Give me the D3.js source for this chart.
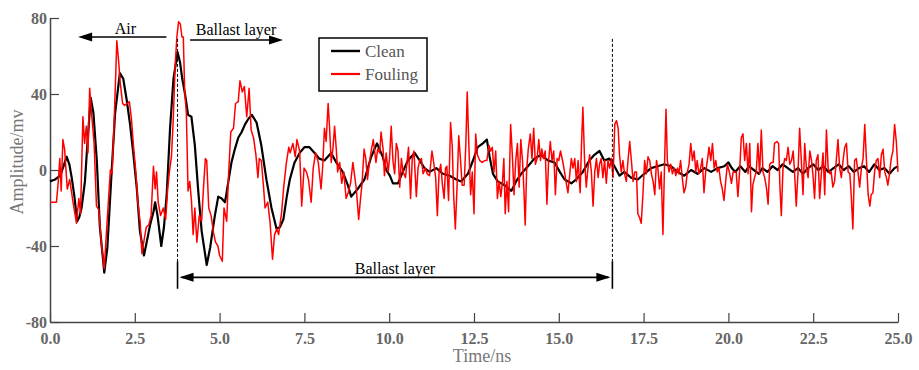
<!DOCTYPE html>
<html><head><meta charset="utf-8">
<script src="https://cdn.jsdelivr.net/npm/d3@7/dist/d3.min.js"></script>
<style>body{margin:0;background:#fff}svg{display:block}</style>
</head><body>
<svg id="c" width="919" height="370"></svg>
<script>
const xTicks = [0, 2.5, 5, 7.5, 10, 12.5, 15, 17.5, 20, 22.5, 25];
const xTickLabels = ["0.0","2.5","5.0","7.5","10.0","12.5","15.0","17.5","20.0","22.5","25.0"];
const yTicks = [-80, -40, 0, 40, 80];
const yTickLabels = ["-80","-40","0","40","80"];
const seriesNames = ["Clean", "Fouling"];

const clean = [[0,-6],[0.15,-5],[0.3,-3],[0.4,2],[0.49,7],[0.57,3],[0.64,-4],[0.72,-14],[0.8,-27],[0.86,-25],[0.93,-20],[1.03,-6],[1.1,13],[1.2,38],[1.28,30],[1.38,5],[1.47,-30],[1.6,-54],[1.69,-41],[1.82,0],[1.92,30],[2.06,51],[2.16,48],[2.26,37],[2.36,24],[2.46,8],[2.56,-10],[2.65,-32],[2.77,-45],[2.85,-38],[2.95,-29],[3.05,-22],[3.1,-17],[3.17,-24],[3.28,-40],[3.36,-30],[3.44,-13],[3.54,22],[3.64,48],[3.76,62],[3.83,57],[3.9,48],[3.99,39],[4.07,29],[4.17,28],[4.27,13],[4.37,-11],[4.47,-32],[4.62,-50],[4.72,-41],[4.86,-24],[4.96,-14],[5.06,-15],[5.16,-17],[5.26,-6],[5.35,4],[5.45,11],[5.55,17],[5.65,20],[5.75,24],[5.85,27],[5.95,29],[6.09,25],[6.23,13],[6.38,-5],[6.53,-20],[6.68,-31],[6.78,-30],[6.88,-26],[6.98,-14],[7.07,-5],[7.21,4],[7.36,9],[7.5,12],[7.65,12],[7.8,9],[7.94,6],[8.09,5],[8.29,9],[8.44,4],[8.63,-1],[8.78,-8],[8.88,-14],[9.07,-10],[9.27,-5],[9.47,7],[9.64,14],[9.81,7],[9.91,0],[10.02,-3],[10.11,-7],[10.26,-7],[10.4,-1],[10.55,5],[10.75,9],[10.9,5],[11.04,1],[11.19,-1],[11.39,1],[11.58,-2],[11.78,-3],[11.98,-5],[12.12,-6],[12.32,-2],[12.47,5],[12.61,12],[12.76,14],[12.88,16],[12.96,7],[13.06,-2],[13.2,-6],[13.4,-8],[13.6,-11],[13.74,-6],[13.89,-2],[14.09,2],[14.28,6],[14.48,8],[14.68,5],[14.87,4],[15.03,-1],[15.17,-5],[15.37,-7],[15.51,-5],[15.71,-1],[15.9,5],[16.05,8],[16.2,10],[16.34,5],[16.49,6],[16.64,2],[16.79,-3],[16.93,-1],[17.13,-4],[17.33,-5],[17.52,-2],[17.72,1],[17.91,2],[18.11,3],[18.31,2],[18.5,-1],[18.7,-3],[18.9,0],[19.09,-2],[19.29,1],[19.49,-1],[19.68,1],[19.88,2],[20,4],[20.1,1],[20.2,-1],[20.35,2],[20.5,-1],[20.6,2],[20.75,0],[20.9,-2],[21,1],[21.15,-1],[21.3,2],[21.45,0],[21.6,3],[21.75,1],[21.9,-1],[22.05,1],[22.2,-2],[22.35,1],[22.5,3],[22.65,0],[22.8,2],[22.95,-1],[23.1,1],[23.25,3],[23.4,0],[23.55,2],[23.7,-1],[23.85,1],[24,2],[24.15,-1],[24.3,3],[24.45,0],[24.6,1],[24.75,-2],[24.9,1],[25,2]];

const fouling = [[0,-17],[0.1,-17],[0.19,-17],[0.24,-7],[0.29,6],[0.33,-11],[0.38,16],[0.43,11],[0.51,-10],[0.58,-5],[0.68,-17],[0.78,-28],[0.85,-15],[0.9,-23],[0.97,28],[1.02,14],[1.07,23],[1.12,9],[1.17,43],[1.22,31],[1.3,14],[1.37,-19],[1.44,-21],[1.51,-38],[1.6,-52],[1.65,-37],[1.72,-17],[1.78,0],[1.83,-2],[1.88,20],[1.93,46],[1.97,68],[2.02,58],[2.07,46],[2.14,35],[2.2,34],[2.27,35],[2.34,36],[2.4,27],[2.46,13],[2.53,-1],[2.59,-17],[2.66,-28],[2.71,-44],[2.79,-35],[2.84,-30],[2.91,-29],[2.98,-24],[3.05,2],[3.1,-10],[3.14,-1],[3.19,-17],[3.26,-24],[3.34,-20],[3.41,-26],[3.47,-10],[3.52,-1],[3.58,7],[3.63,25],[3.69,55],[3.74,70],[3.79,78],[3.84,77],[3.89,70],[3.93,70],[3.97,42],[4.02,30],[4.07,-11],[4.12,-6],[4.17,-16],[4.22,-34],[4.27,-20],[4.33,-38],[4.4,-24],[4.47,-27],[4.52,-11],[4.58,6],[4.62,5],[4.68,-20],[4.75,-24],[4.82,-33],[4.88,-38],[4.95,-40],[5,-45],[5.08,-48],[5.13,-20],[5.21,-27],[5.26,-4],[5.33,20],[5.41,22],[5.47,35],[5.55,36],[5.6,47],[5.67,41],[5.73,44],[5.8,28],[5.87,43],[5.93,21],[6,17],[6.07,8],[6.13,-4],[6.17,6],[6.23,5],[6.3,-10],[6.34,-20],[6.42,-17],[6.49,-28],[6.56,-47],[6.62,-34],[6.69,-31],[6.74,-34],[6.83,-22],[6.89,-9],[6.97,4],[7.04,12],[7.08,9],[7.16,14],[7.23,7],[7.28,16],[7.36,10],[7.42,-19],[7.49,1],[7.56,-1],[7.62,-5],[7.7,-17],[7.76,1],[7.83,9],[7.91,4],[7.99,-10],[8.04,2],[8.09,22],[8.14,15],[8.2,35],[8.24,23],[8.29,4],[8.34,11],[8.39,23],[8.44,11],[8.48,-1],[8.54,4],[8.6,-7],[8.66,-1],[8.73,-15],[8.79,-12],[8.86,-7],[8.93,4],[8.98,-3],[9.03,-10],[9.1,-26],[9.16,-14],[9.2,-7],[9.26,11],[9.31,6],[9.36,-5],[9.41,3],[9.46,9],[9.53,16],[9.61,4],[9.66,11],[9.72,9],[9.76,20],[9.82,11],[9.86,-3],[9.91,9],[9.97,-1],[10.01,6],[10.06,23],[10.11,5],[10.16,-2],[10.21,14],[10.26,10],[10.31,-9],[10.36,6],[10.41,-1],[10.48,-4],[10.53,5],[10.57,12],[10.63,-15],[10.68,6],[10.73,10],[10.8,-14],[10.85,1],[10.9,5],[10.95,6],[11,-2],[11.07,1],[11.12,-2],[11.19,-3],[11.26,10],[11.32,3],[11.37,-4],[11.42,-24],[11.47,-1],[11.52,3],[11.57,-8],[11.62,-15],[11.66,1],[11.7,2],[11.75,-16],[11.81,25],[11.86,12],[11.9,-13],[11.95,-31],[12,-9],[12.05,18],[12.1,6],[12.15,-8],[12.21,-8],[12.26,14],[12.3,41],[12.35,12],[12.4,-13],[12.45,-1],[12.5,-23],[12.55,19],[12.6,8],[12.67,5],[12.74,4],[12.82,5],[12.88,5],[12.94,13],[12.99,10],[13.04,12],[13.09,-1],[13.14,10],[13.19,-15],[13.24,-6],[13.29,-14],[13.34,-6],[13.38,6],[13.42,-23],[13.47,-6],[13.52,-22],[13.58,24],[13.63,8],[13.68,-13],[13.73,5],[13.78,14],[13.83,-9],[13.88,16],[13.93,5],[13.97,-10],[14.01,-29],[14.05,-1],[14.1,11],[14.16,19],[14.21,6],[14.26,22],[14.31,3],[14.36,6],[14.41,16],[14.46,5],[14.5,11],[14.55,6],[14.6,10],[14.65,-18],[14.7,5],[14.75,15],[14.8,5],[14.85,10],[14.9,-13],[14.95,6],[15,5],[15.05,10],[15.11,5],[15.17,-1],[15.23,-8],[15.27,-12],[15.33,-1],[15.37,6],[15.42,1],[15.47,6],[15.52,-6],[15.57,5],[15.63,-12],[15.67,14],[15.71,33],[15.76,5],[15.81,-9],[15.86,1],[15.91,8],[15.96,-1],[16.01,-19],[16.06,-1],[16.11,6],[16.16,-4],[16.2,3],[16.25,6],[16.3,-4],[16.35,5],[16.4,-7],[16.45,5],[16.5,1],[16.55,6],[16.6,-4],[16.65,24],[16.7,26],[16.75,22],[16.79,8],[16.84,-1],[16.89,5],[16.94,-2],[16.99,-6],[17.04,5],[17.09,15],[17.14,5],[17.19,-6],[17.24,-1],[17.29,-1],[17.33,-23],[17.38,-25],[17.43,-28],[17.48,-13],[17.53,5],[17.58,-2],[17.63,7],[17.68,5],[17.73,-2],[17.78,-6],[17.83,-13],[17.88,5],[17.92,1],[17.97,-10],[18.02,-1],[18.07,-34],[18.12,5],[18.16,32],[18.2,5],[18.25,-1],[18.3,3],[18.35,-2],[18.4,1],[18.45,-3],[18.5,1],[18.54,-2],[18.59,5],[18.64,-4],[18.69,-12],[18.74,-9],[18.79,-1],[18.84,3],[18.89,14],[18.94,5],[18.99,10],[19.04,-1],[19.08,5],[19.13,-2],[19.18,1],[19.23,6],[19.28,-12],[19.33,-1],[19.38,5],[19.43,12],[19.48,5],[19.53,14],[19.58,1],[19.63,5],[19.67,-1],[19.72,1],[19.77,-6],[19.82,-10],[19.87,-16],[19.92,-6],[19.97,3],[20.04,-2],[20.09,-7],[20.14,-1],[20.18,-1],[20.23,-1],[20.28,-14],[20.33,-1],[20.38,17],[20.43,19],[20.48,5],[20.53,14],[20.58,-2],[20.63,14],[20.68,-22],[20.72,-8],[20.77,-4],[20.82,-1],[20.87,14],[20.92,-2],[20.97,21],[21.02,-1],[21.07,-4],[21.12,-9],[21.17,-18],[21.22,3],[21.27,4],[21.32,4],[21.36,14],[21.43,15],[21.48,14],[21.52,-9],[21.56,-24],[21.61,1],[21.66,6],[21.71,5],[21.76,12],[21.81,3],[21.86,5],[21.91,10],[21.95,-1],[22,-19],[22.05,-2],[22.1,22],[22.15,5],[22.2,-13],[22.25,14],[22.3,1],[22.35,-4],[22.4,10],[22.45,5],[22.49,-2],[22.54,-15],[22.59,5],[22.64,8],[22.69,-15],[22.74,-2],[22.79,9],[22.84,-13],[22.89,21],[22.94,1],[22.99,-2],[23.03,-1],[23.08,-9],[23.13,-6],[23.18,5],[23.23,16],[23.28,1],[23.33,-4],[23.38,5],[23.43,12],[23.48,14],[23.53,-1],[23.58,-2],[23.62,-13],[23.67,-31],[23.72,5],[23.77,6],[23.82,-1],[23.87,-9],[23.92,1],[23.97,6],[24.02,24],[24.07,5],[24.12,-13],[24.17,-19],[24.21,-13],[24.26,-12],[24.31,-1],[24.36,5],[24.41,6],[24.46,-4],[24.51,8],[24.56,11],[24.61,-1],[24.66,-4],[24.7,-8],[24.75,-2],[24.8,6],[24.85,10],[24.9,24],[24.95,15],[25,-1]];

// annotation anchors in data units
const boundaries = [3.76, 16.58];
const annoTexts = ["Air", "Ballast layer", "Ballast layer"];

const svg = d3.select("#c");
const m = {l:50, r:21, t:18, b:48};
const W = 919, H = 370;
const x = d3.scaleLinear().domain([0,25]).range([m.l, W - m.r]);
const y = d3.scaleLinear().domain([-80,80]).range([H - m.b, m.t]);
const serif = "'Liberation Serif','Times New Roman',serif";

// axes
const xa = svg.append("g").attr("transform", `translate(0,${H-m.b})`)
  .call(d3.axisBottom(x).tickValues(xTicks).tickFormat((d,i)=>xTickLabels[i]).tickSizeInner(-9).tickSizeOuter(0).tickPadding(11));
const ya = svg.append("g").attr("transform", `translate(${m.l},0)`)
  .call(d3.axisLeft(y).tickValues(yTicks).tickFormat((d,i)=>yTickLabels[i]).tickSizeInner(-9).tickSizeOuter(0).tickPadding(3));
[xa, ya].forEach(a => {
  a.select(".domain").attr("stroke", "#444").attr("stroke-width", 1.5);
  a.selectAll(".tick line").attr("stroke", "#444").attr("stroke-width", 1.2);
  a.selectAll(".tick text").attr("fill", "#666").attr("font-family", serif)
    .attr("font-weight", "bold").attr("font-size", 16);
});

svg.append("text").attr("x", 482).attr("y", 362).attr("text-anchor", "middle")
  .attr("font-family", serif).attr("font-size", 18).attr("fill", "#777").text("Time/ns");
svg.append("text").attr("transform", "translate(23,162) rotate(-90)").attr("text-anchor", "middle")
  .attr("font-family", serif).attr("font-size", 18).attr("fill", "#777").text("Amplitude/mv");

// lines
const line = d3.line().x(d => x(d[0])).y(d => y(d[1]));
svg.append("path").datum(clean).attr("d", line).attr("fill", "none")
  .attr("stroke", "#000").attr("stroke-width", 2.2).attr("stroke-linejoin", "round");
svg.append("path").datum(fouling).attr("d", line).attr("fill", "none")
  .attr("stroke", "#ff0000").attr("stroke-width", 1.5).attr("stroke-linejoin", "round");

// annotations
const g = svg.append("g");
function arrowHead(tipX, tipY, dir) {
  const L = 14, h = 4.5;
  g.append("path").attr("d", `M${tipX},${tipY} L${tipX - dir*L},${tipY - h} L${tipX - dir*L},${tipY + h} Z`).attr("fill", "#000");
}
boundaries.forEach(b => {
  g.append("line").attr("x1", x(b)).attr("x2", x(b)).attr("y1", y(69)).attr("y2", y(-48))
    .attr("stroke", "#000").attr("stroke-width", 1).attr("stroke-dasharray", "3,2");
  g.append("line").attr("x1", x(b)).attr("x2", x(b)).attr("y1", y(-48)).attr("y2", y(-62.5))
    .attr("stroke", "#000").attr("stroke-width", 1.6);
});
// bottom double arrow
const by = y(-56.5);
g.append("line").attr("x1", x(boundaries[0]) + 4).attr("x2", x(boundaries[1]) - 4).attr("y1", by).attr("y2", by)
  .attr("stroke", "#000").attr("stroke-width", 1.6);
arrowHead(x(boundaries[0]) + 2, by, -1);
arrowHead(x(boundaries[1]) - 2, by, 1);
g.append("text").attr("x", x(10.17)).attr("y", y(-54.5)).attr("text-anchor", "middle")
  .attr("font-family", serif).attr("font-size", 16).attr("fill", "#000").text(annoTexts[2]);
// Air arrow
const ay = y(70);
g.append("line").attr("x1", x(3.43)).attr("x2", x(0.95)).attr("y1", ay).attr("y2", ay).attr("stroke", "#000").attr("stroke-width", 1.6);
arrowHead(x(0.83), ay, -1);
g.append("text").attr("x", x(2.22)).attr("y", y(71.5)).attr("text-anchor", "middle")
  .attr("font-family", serif).attr("font-size", 16).attr("fill", "#000").text(annoTexts[0]);
// Ballast layer top arrow
const ty = y(68.4);
g.append("line").attr("x1", x(4.13)).attr("x2", x(6.7)).attr("y1", ty).attr("y2", ty).attr("stroke", "#000").attr("stroke-width", 1.6);
arrowHead(x(6.87), ty, 1);
g.append("text").attr("x", x(4.3)).attr("y", y(71.3)).attr("text-anchor", "start")
  .attr("font-family", serif).attr("font-size", 16).attr("fill", "#000").text(annoTexts[1]);

// legend
const lg = svg.append("g");
lg.append("rect").attr("x", 319).attr("y", 38).attr("width", 108).attr("height", 53)
  .attr("fill", "#fff").attr("stroke", "#000").attr("stroke-width", 1.5);
[["#000", 2.4], ["#ff0000", 2.2]].forEach((s, i) => {
  const yy = 51 + i * 23;
  lg.append("line").attr("x1", 331).attr("x2", 360).attr("y1", yy).attr("y2", yy)
    .attr("stroke", s[0]).attr("stroke-width", s[1]);
  lg.append("text").attr("x", 365).attr("y", yy + 6).attr("font-family", serif).attr("font-size", 17)
    .attr("fill", "#555").text(seriesNames[i]);
});
</script>
</body></html>
